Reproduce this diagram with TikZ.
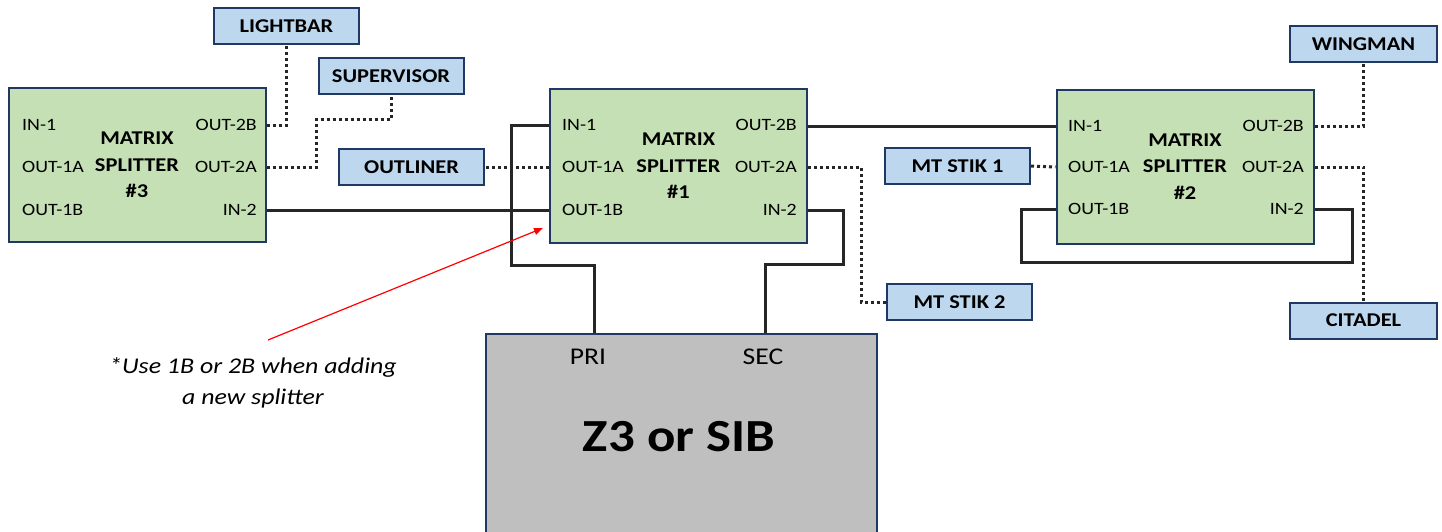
\documentclass[tikz,border=0pt]{standalone}
\usepackage{fontspec}
\setmainfont{Carlito}[FakeStretch=1.15]
\usetikzlibrary{arrows.meta}
\definecolor{gfill}{HTML}{C5E0B4}
\definecolor{bfill}{HTML}{BDD7EE}
\definecolor{edge}{HTML}{1F3864}
\definecolor{zfill}{HTML}{BFBFBF}
\definecolor{wirec}{HTML}{262626}
\tikzset{
  splitter/.style={draw=edge, line width=2pt, fill=gfill, inner sep=0pt, minimum width=257pt, minimum height=154pt},
  tag/.style={draw=edge, line width=2pt, fill=bfill, inner sep=0pt, minimum width=145pt, minimum height=36pt, font=\fontsize{19.5}{22}\selectfont\bfseries},
  port/.style={inner sep=0pt, font=\fontsize{17.3}{20}\selectfont},
  title/.style={inner sep=0pt, align=center, font=\fontsize{19.5}{26.5}\selectfont\bfseries},
  wire/.style={draw=wirec, line width=3pt},
  dots/.style={draw=wirec, line width=3pt, dash pattern=on 3pt off 3pt},
}
\begin{document}
\begin{tikzpicture}[x=1pt,y=-1pt]
\useasboundingbox (0,0) rectangle (1442,531);
% splitters
\node[splitter] (s3) at (137,165) {};
\node[splitter] (s1) at (678.5,166) {};
\node[splitter] (s2) at (1185,166.5) {};
\node[title] at (s3) {MATRIX\\SPLITTER\\\#3};
\node[title] at (s1) {MATRIX\\SPLITTER\\\#1};
\node[title] at (s2) {MATRIX\\SPLITTER\\\#2};
% ports s3
\node[port,anchor=west] (s3i1) at (22,125) {IN-1};
\node[port,anchor=west] (s3o1a) at (22,167) {OUT-1A};
\node[port,anchor=west] (s3o1b) at (22,210) {OUT-1B};
\node[port,anchor=east] (s3o2b) at (257,125) {OUT-2B};
\node[port,anchor=east] (s3o2a) at (257,167) {OUT-2A};
\node[port,anchor=east] (s3i2) at (257,210) {IN-2};
% ports s1
\node[port,anchor=west] (s1i1) at (562,125) {IN-1};
\node[port,anchor=west] (s1o1a) at (562,167) {OUT-1A};
\node[port,anchor=west] (s1o1b) at (562,210) {OUT-1B};
\node[port,anchor=east] (s1o2b) at (797,125) {OUT-2B};
\node[port,anchor=east] (s1o2a) at (797,167) {OUT-2A};
\node[port,anchor=east] (s1i2) at (797,210) {IN-2};
% ports s2
\node[port,anchor=west] (s2i1) at (1068,126) {IN-1};
\node[port,anchor=west] (s2o1a) at (1068,167) {OUT-1A};
\node[port,anchor=west] (s2o1b) at (1068,209) {OUT-1B};
\node[port,anchor=east] (s2o2b) at (1304,126) {OUT-2B};
\node[port,anchor=east] (s2o2a) at (1304,167) {OUT-2A};
\node[port,anchor=east] (s2i2) at (1304,209) {IN-2};
% tags
\node[tag] (lightbar) at (286.5,26) {LIGHTBAR};
\node[tag] (supervisor) at (391,76) {SUPERVISOR};
\node[tag] (outliner) at (411.5,167) {OUTLINER};
\node[tag] (mtstik1) at (957.5,166) {MT STIK 1};
\node[tag] (mtstik2) at (959.5,302) {MT STIK 2};
\node[tag, minimum width=147pt] (wingman) at (1363.5,44) {WINGMAN};
\node[tag, minimum width=147pt] (citadel) at (1363.5,320.5) {CITADEL};
% Z3 box
\node[draw=edge, line width=2pt, fill=zfill, inner sep=0pt, minimum width=391pt, minimum height=220pt, anchor=north west] (z3) at (485,333) {};
\node[inner sep=0pt, font=\fontsize{24}{26}\selectfont] (pri) at (588,357) {PRI};
\node[inner sep=0pt, font=\fontsize{24}{26}\selectfont] (sec) at (763,357) {SEC};
\node[inner sep=0pt, font=\fontsize{46}{50}\selectfont\bfseries] (z3t) at (679,437) {Z3 or SIB};
% coordinates
\coordinate (k1) at (511,265);
\coordinate (k2) at (594,265);
\coordinate (k3) at (843,264);
\coordinate (k4) at (765,264);
\coordinate (d1) at (861,167);
\coordinate (d2) at (316,119);
\coordinate (l1) at (1021,262);
\coordinate (l2) at (1352,209);
% solid wires
\draw[wire] (s3.east |- s3i2) -- (s1.west |- s1o1b);
\draw[wire] (s1.west |- s1i1) -| (k1) -- (k2) -- (k2 |- z3.north);
\draw[wire] (s1.east |- s1i2) -| (k3) -- (k4) -- (k4 |- z3.north);
\draw[wire] (s1.east |- s2i1) -- (s2.west |- s2i1);
\draw[wire] (s2.west |- s2o1b) -| (l1) -| (l2) -- (s2.east |- s2i2);
% dotted wires
\draw[dots] (s3.east |- s3o2b) -| (lightbar.south);
\draw[dots] (s3.east |- s3o2a) -| (d2) -| (supervisor.south);
\draw[dots] (s1.west |- s1o1a) -- (outliner.east);
\draw[dots] (s1.east |- s1o2a) -- (d1) |- (mtstik2.west);
\draw[dots] (mtstik1.east) -- (s2.west |- s2o1a);
\draw[dots] (s2.east |- s2o2b) -| (wingman.south);
\draw[dots] (s2.east |- s2o2a) -| (citadel.north);
% note
\node[inner sep=0pt, align=center, font=\fontsize{22.5}{31}\selectfont\itshape] (note) at (253,383) {*Use 1B or 2B when adding\\a new splitter};
\coordinate (nstart) at (268,340);
\coordinate (ntip) at (543,228);
\draw[red, line width=1.2pt, -{Triangle[length=9pt,width=7pt]}] (nstart) -- (ntip);
\end{tikzpicture}
\end{document}
